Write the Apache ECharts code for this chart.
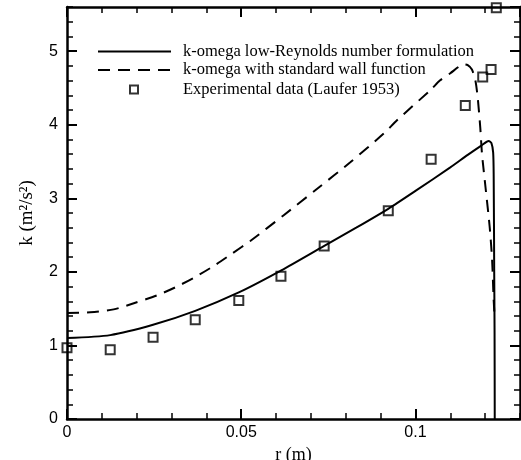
<!DOCTYPE html>
<html>
<head>
<meta charset="utf-8">
<script src="https://cdn.jsdelivr.net/npm/echarts@6/dist/echarts.min.js"></script>
<style>
  html, body { margin: 0; padding: 0; background: #fff; }
  #chart { width: 521px; height: 460px; }
</style>
</head>
<body>
<div id="chart"></div>
<script>
// k-omega low-Reynolds (solid)
const lowReR = [0, 0.0124, 0.0247, 0.0368, 0.0493, 0.0615, 0.0737, 0.083, 0.0923, 0.1, 0.11, 0.115, 0.119, 0.121, 0.1218, 0.1223, 0.12245, 0.1226, 0.1227, 0.12275];
const lowReK = [1.10, 1.14, 1.28, 1.47, 1.72, 2.02, 2.35, 2.60, 2.86, 3.10, 3.42, 3.59, 3.72, 3.78, 3.75, 3.62, 3.30, 2.00, 1.20, 0];

// k-omega with standard wall function (dashed)
const wallR = [0, 0.0067, 0.0134, 0.0196, 0.0258, 0.0311, 0.0368, 0.0421, 0.0474, 0.0526, 0.0622, 0.0718, 0.0813, 0.0909, 0.0947, 0.1045, 0.107, 0.110, 0.1125, 0.1138, 0.115, 0.1162, 0.1172, 0.1179, 0.1186, 0.1191, 0.1201, 0.1213, 0.122, 0.1224, 0.1226, 0.1227];
const wallK = [1.44, 1.45, 1.49, 1.58, 1.68, 1.79, 1.93, 2.08, 2.25, 2.42, 2.77, 3.13, 3.49, 3.88, 4.06, 4.48, 4.60, 4.70, 4.79, 4.82, 4.81, 4.75, 4.60, 4.35, 3.96, 3.60, 3.15, 2.61, 2.16, 1.66, 1.48, 1.39];

// Laufer 1953
const expR = [0, 0.0124, 0.0247, 0.0368, 0.0493, 0.0614, 0.0738, 0.0922, 0.1045, 0.1143, 0.1193, 0.1217, 0.1232];
const expK = [0.97, 0.94, 1.11, 1.35, 1.61, 1.94, 2.35, 2.83, 3.53, 4.26, 4.65, 4.75, 5.59];

const xTicks = ['0', '0.05', '0.1'];
const yTicks = ['0', '1', '2', '3', '4', '5'];

const seriesNames = [
    'k-omega low-Reynolds number formulation',
    'k-omega with standard wall function',
    'Experimental data (Laufer 1953)'
];

const pairs = (xs, ys) => xs.map((x, i) => [x, ys[i]]);

const sans = 'Liberation Sans';
const serif = 'Liberation Serif';

const xBase = {
    type: 'value', min: 0, max: 0.13, gridIndex: 0,
    splitLine: { show: false }
};
const yBase = {
    type: 'value', min: 0, max: 5.6, gridIndex: 0,
    splitLine: { show: false }
};

const majorX = (pos, labels) => Object.assign({}, xBase, {
    position: pos,
    interval: 0.05,
    axisLine: { show: true, onZero: false, lineStyle: { color: '#000', width: 2.5 } },
    axisTick: { show: true, inside: true, length: 10, lineStyle: { color: '#000', width: 2 } },
    axisLabel: {
        show: labels, margin: 6, color: '#000', fontFamily: sans, fontSize: 16,
        showMaxLabel: false,
        formatter: v => xTicks.find(t => Math.abs(parseFloat(t) - v) < 1e-9) || ''
    },
    name: labels ? 'r (m)' : '',
    nameLocation: 'middle',
    nameGap: 22,
    nameTextStyle: { color: '#000', fontFamily: serif, fontSize: 18 }
});
const minorX = pos => Object.assign({}, xBase, {
    position: pos,
    interval: 0.01,
    axisLine: { show: false, onZero: false },
    axisTick: { show: true, inside: true, length: 6, lineStyle: { color: '#000', width: 1.5 } },
    axisLabel: { show: false }
});
const majorY = (pos, labels) => Object.assign({}, yBase, {
    position: pos,
    interval: 1,
    axisLine: { show: true, onZero: false, lineStyle: { color: '#000', width: 2.5 } },
    axisTick: { show: true, inside: true, length: 10, lineStyle: { color: '#000', width: 2 } },
    axisLabel: {
        show: labels, margin: 9, color: '#000', fontFamily: sans, fontSize: 16,
        showMaxLabel: false,
        formatter: v => yTicks.find(t => Math.abs(parseFloat(t) - v) < 1e-9) || ''
    },
    name: labels ? 'k (m\u00B2/s\u00B2)' : '',
    nameLocation: 'middle',
    nameGap: 30,
    nameTextStyle: { color: '#000', fontFamily: serif, fontSize: 19 }
});
const minorY = pos => Object.assign({}, yBase, {
    position: pos,
    interval: 0.2,
    axisLine: { show: false, onZero: false },
    axisTick: { show: true, inside: true, length: 6, lineStyle: { color: '#000', width: 1.5 } },
    axisLabel: { show: false }
});

const legendText = { color: '#000', fontFamily: serif, fontSize: 16.5 };

const chart = echarts.init(document.getElementById('chart'), null, { renderer: 'canvas' });

chart.setOption({
    animation: false,
    backgroundColor: '#fff',
    grid: { left: 67, right: 1, top: 7, bottom: 41, containLabel: false, outerBoundsMode: 'none' },
    legend: [
        {
            // the two curves
            orient: 'vertical',
            left: 97,
            top: 43,
            padding: 0,
            itemWidth: 73,
            itemHeight: 8,
            itemGap: 1.5,
            itemStyle: { opacity: 0 },
            textStyle: Object.assign({ padding: [0, 0, 0, 7] }, legendText),
            data: seriesNames.slice(0, 2)
        },
        {
            // experimental points
            orient: 'vertical',
            left: 129,
            top: 81,
            padding: 0,
            itemWidth: 8,
            itemHeight: 8,
            textStyle: Object.assign({ padding: [0, 0, 0, 40] }, legendText),
            data: seriesNames.slice(2)
        }
    ],
    xAxis: [majorX('bottom', true), minorX('bottom'), majorX('top', false), minorX('top')],
    yAxis: [majorY('left', true), minorY('left'), majorY('right', false), minorY('right')],
    series: [
        {
            name: seriesNames[0],
            type: 'line',
            data: pairs(lowReR, lowReK),
            symbol: 'none',
            smooth: 0.25,
            lineStyle: { color: '#000', width: 2 },
            itemStyle: { color: '#000' }
        },
        {
            name: seriesNames[1],
            type: 'line',
            data: pairs(wallR, wallK),
            symbol: 'none',
            smooth: 0.25,
            lineStyle: { color: '#000', width: 2, type: [12, 8] },
            itemStyle: { color: '#000' }
        },
        {
            name: seriesNames[2],
            type: 'scatter',
            data: pairs(expR, expK),
            symbol: 'rect',
            symbolSize: 9,
            clip: false,
            itemStyle: { color: 'rgba(0,0,0,0)', borderColor: '#000', borderWidth: 2 }
        }
    ]
});
</script>
</body>
</html>
